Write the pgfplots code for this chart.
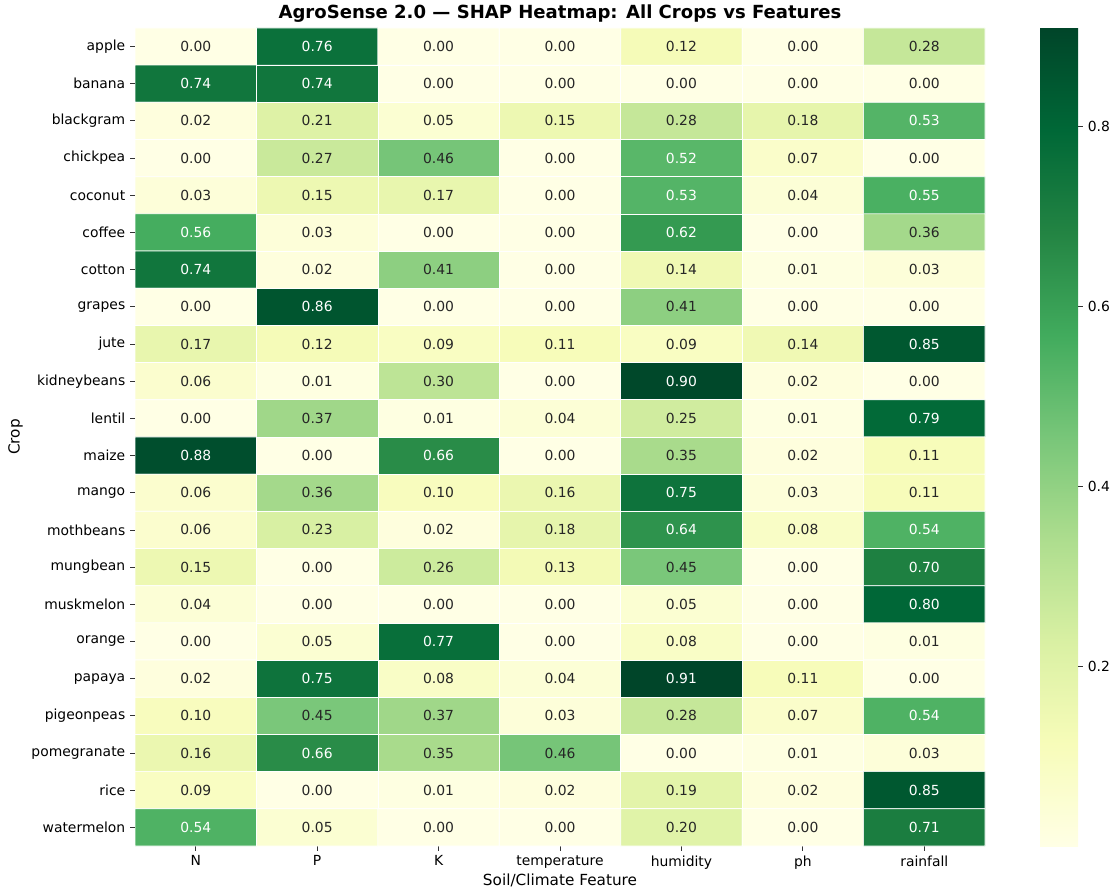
\documentclass[border=0pt]{standalone}
\usepackage{pgfplots}
\pgfplotsset{compat=1.18}
\usepackage{pgfplotstable}
\usepackage{fontspec}
\setmainfont{DejaVu Sans}
\definecolor{textdark}{HTML}{262626}
\pgfplotstableread[row sep=\\]{
x y v\\
0 0 0.00\\ 1 0 0.76\\ 2 0 0.00\\ 3 0 0.00\\ 4 0 0.12\\ 5 0 0.00\\ 6 0 0.28\\
0 1 0.74\\ 1 1 0.74\\ 2 1 0.00\\ 3 1 0.00\\ 4 1 0.00\\ 5 1 0.00\\ 6 1 0.00\\
0 2 0.02\\ 1 2 0.21\\ 2 2 0.05\\ 3 2 0.15\\ 4 2 0.28\\ 5 2 0.18\\ 6 2 0.53\\
0 3 0.00\\ 1 3 0.27\\ 2 3 0.46\\ 3 3 0.00\\ 4 3 0.52\\ 5 3 0.07\\ 6 3 0.00\\
0 4 0.03\\ 1 4 0.15\\ 2 4 0.17\\ 3 4 0.00\\ 4 4 0.53\\ 5 4 0.04\\ 6 4 0.55\\
0 5 0.56\\ 1 5 0.03\\ 2 5 0.00\\ 3 5 0.00\\ 4 5 0.62\\ 5 5 0.00\\ 6 5 0.36\\
0 6 0.74\\ 1 6 0.02\\ 2 6 0.41\\ 3 6 0.00\\ 4 6 0.14\\ 5 6 0.01\\ 6 6 0.03\\
0 7 0.00\\ 1 7 0.86\\ 2 7 0.00\\ 3 7 0.00\\ 4 7 0.41\\ 5 7 0.00\\ 6 7 0.00\\
0 8 0.17\\ 1 8 0.12\\ 2 8 0.09\\ 3 8 0.11\\ 4 8 0.09\\ 5 8 0.14\\ 6 8 0.85\\
0 9 0.06\\ 1 9 0.01\\ 2 9 0.30\\ 3 9 0.00\\ 4 9 0.90\\ 5 9 0.02\\ 6 9 0.00\\
0 10 0.00\\ 1 10 0.37\\ 2 10 0.01\\ 3 10 0.04\\ 4 10 0.25\\ 5 10 0.01\\ 6 10 0.79\\
0 11 0.88\\ 1 11 0.00\\ 2 11 0.66\\ 3 11 0.00\\ 4 11 0.35\\ 5 11 0.02\\ 6 11 0.11\\
0 12 0.06\\ 1 12 0.36\\ 2 12 0.10\\ 3 12 0.16\\ 4 12 0.75\\ 5 12 0.03\\ 6 12 0.11\\
0 13 0.06\\ 1 13 0.23\\ 2 13 0.02\\ 3 13 0.18\\ 4 13 0.64\\ 5 13 0.08\\ 6 13 0.54\\
0 14 0.15\\ 1 14 0.00\\ 2 14 0.26\\ 3 14 0.13\\ 4 14 0.45\\ 5 14 0.00\\ 6 14 0.70\\
0 15 0.04\\ 1 15 0.00\\ 2 15 0.00\\ 3 15 0.00\\ 4 15 0.05\\ 5 15 0.00\\ 6 15 0.80\\
0 16 0.00\\ 1 16 0.05\\ 2 16 0.77\\ 3 16 0.00\\ 4 16 0.08\\ 5 16 0.00\\ 6 16 0.01\\
0 17 0.02\\ 1 17 0.75\\ 2 17 0.08\\ 3 17 0.04\\ 4 17 0.91\\ 5 17 0.11\\ 6 17 0.00\\
0 18 0.10\\ 1 18 0.45\\ 2 18 0.37\\ 3 18 0.03\\ 4 18 0.28\\ 5 18 0.07\\ 6 18 0.54\\
0 19 0.16\\ 1 19 0.66\\ 2 19 0.35\\ 3 19 0.46\\ 4 19 0.00\\ 5 19 0.01\\ 6 19 0.03\\
0 20 0.09\\ 1 20 0.00\\ 2 20 0.01\\ 3 20 0.02\\ 4 20 0.19\\ 5 20 0.02\\ 6 20 0.85\\
0 21 0.54\\ 1 21 0.05\\ 2 21 0.00\\ 3 21 0.00\\ 4 21 0.20\\ 5 21 0.00\\ 6 21 0.71\\
}\shapdata
\begin{document}
\begin{tikzpicture}
\begin{axis}[
  at={(0,0)}, anchor=south west,
  scale only axis, width=612pt, height=589pt,
  xmin=-0.5, xmax=6.5, ymin=-0.5, ymax=21.5,
  enlargelimits=false, y dir=reverse,
  colormap={ylgn}{rgb255=(255,255,229) rgb255=(247,252,185) rgb255=(217,240,163) rgb255=(173,221,142) rgb255=(120,198,121) rgb255=(65,171,93) rgb255=(35,132,67) rgb255=(0,104,55) rgb255=(0,69,41)},
  point meta min=0, point meta max=0.91,
  xtick={0,...,6}, xticklabels={N,P,K,temperature,humidity,ph,rainfall},
  ytick={0,...,21},
  yticklabels={apple,banana,blackgram,chickpea,coconut,coffee,cotton,grapes,jute,kidneybeans,lentil,maize,mango,mothbeans,mungbean,muskmelon,orange,papaya,pigeonpeas,pomegranate,rice,watermelon},
  tick pos=left, tick align=outside, major tick length=3.5pt,
  tick style={black!80, line width=0.6pt},
  axis line style={draw=none},
  ticklabel style={font=\fontsize{10}{12}\selectfont, black},
  title={\bfseries AgroSense 2.0 — SHAP Heatmap: All Crops vs Features},
  every axis title shift=0pt,
  title style={at={(axis description cs:0.5,1)}, anchor=center, yshift=10pt, font=\fontsize{13}{15}\selectfont},
  xlabel={Soil/Climate Feature}, ylabel={Crop},
  every axis x label/.style={at={(axis description cs:0.5,-0.0416)}, anchor=center, font=\fontsize{11}{13}\selectfont},
  every axis y label/.style={at={(axis description cs:-0.1405,0.5)}, anchor=center, rotate=90, font=\fontsize{11}{13}\selectfont},
  colorbar,
  colorbar/width=27.4pt,
  colorbar style={
    at={(1.0647,1)}, anchor=north west,
    scale only axis, width=27.4pt, height=589pt,
    ytick={0.2,0.4,0.6,0.8},
    axis line style={draw=none},
    tick align=outside, ytick pos=right, major tick length=3.5pt,
    tick style={black!80, line width=0.6pt},
    yticklabel style={font=\fontsize{10}{12}\selectfont,
      /pgf/number format/.cd, fixed, fixed zerofill, precision=1, assume math mode=true},
  },
]
\addplot[matrix plot*, mesh/cols=7, point meta=explicit, draw=white, line width=0.5pt]
  table[x=x, y=y, meta=v] {\shapdata};
\addplot[only marks, mark=none, point meta=explicit,
  nodes near coords={\pgfmathfloattofixed{\pgfplotspointmeta}\ifdim\pgfmathresult pt>0.49pt\color{white}\else\color{textdark}\fi\pgfmathprintnumber[fixed,fixed zerofill,precision=2,assume math mode=true]{\pgfplotspointmeta}},
  every node near coord/.append style={anchor=center, font=\fontsize{10}{12}\selectfont}]
  table[x=x, y=y, meta=v] {\shapdata};
\end{axis}
\pgfresetboundingbox
\path (-97.2pt,-33.1pt) rectangle (707pt,609.1pt);
\end{tikzpicture}
\end{document}
